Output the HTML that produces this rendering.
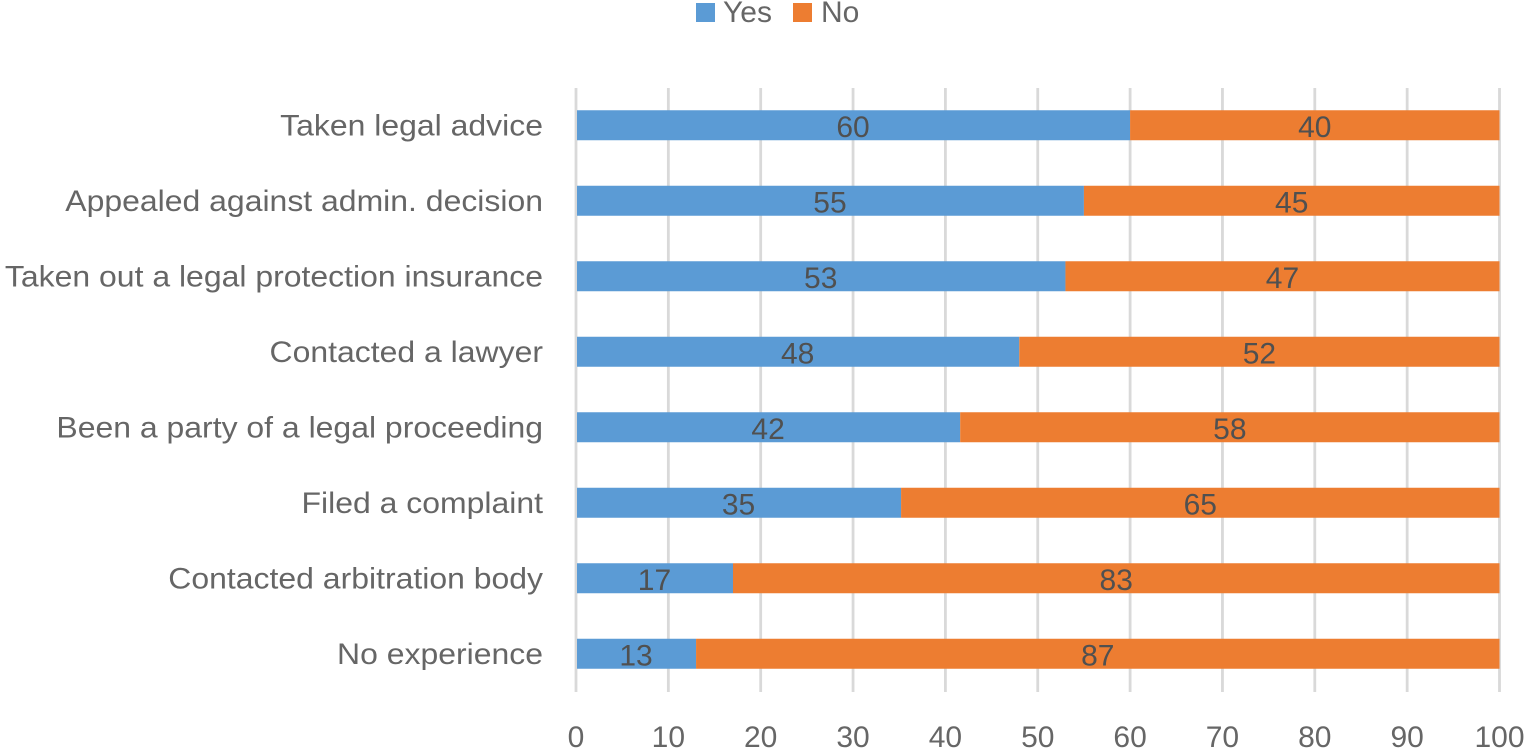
<!DOCTYPE html>
<html lang="en">
<head>
<meta charset="utf-8">
<title>Legal experience chart</title>
<style>
html,body{margin:0;padding:0;background:#fff;width:1525px;height:748px;overflow:hidden}
svg{display:block;font-family:"Liberation Sans",sans-serif}
</style>
</head>
<body>
<svg id="chart" xmlns="http://www.w3.org/2000/svg" width="1525" height="748" viewBox="0 0 1525 748">
  <g id="grid"></g>
  <g id="bars"></g>
  <g id="cats"></g>
  <g id="ticks"></g>
  <g id="legend">
    <g>
      <rect x="696" y="3" width="19" height="19" fill="#5b9bd5"/>
      <text x="723" y="22" font-size="30" fill="#666666" id="legYes">Yes</text>
    </g>
    <g>
      <rect x="793" y="3" width="19" height="19" fill="#ed7d31"/>
      <text x="821" y="22" font-size="30" fill="#666666" id="legNo">No</text>
    </g>
  </g>
</svg>
<script>
const categories = ["Taken legal advice","Appealed against admin. decision","Taken out a legal protection insurance","Contacted a lawyer","Been a party of a legal proceeding","Filed a complaint","Contacted arbitration body","No experience"];
const yesValues = [60,55,53,48,41.6,35.2,17,13];
const noValues = [40,45,47,52,58.4,64.8,83,87];
const tickValues = [0,10,20,30,40,50,60,70,80,90,100];

const NS = "http://www.w3.org/2000/svg";
const plotLeft = 576, plotRight = 1499.5, plotTop = 88, plotBottom = 692;
const xScale = v => plotLeft + (plotRight - plotLeft) * v / 100;
const band = (plotBottom - plotTop) / categories.length;
const yCenter = i => plotTop + band * (i + 0.5) - 0.5;
const barH = 30;
const catStretch = 1.065;

function mk(tag, attrs, parent, txt) {
  const el = document.createElementNS(NS, tag);
  for (const k in attrs) el.setAttribute(k, attrs[k]);
  if (txt !== undefined) el.textContent = txt;
  parent.appendChild(el);
  return el;
}
const gGrid = document.getElementById("grid");
const gBars = document.getElementById("bars");
const gCats = document.getElementById("cats");
const gTicks = document.getElementById("ticks");

tickValues.forEach(t => {
  const line = mk("line", {x1: xScale(t), x2: xScale(t), y1: plotTop, y2: plotBottom, stroke: "#d9d9d9", "stroke-width": 2.8}, gGrid);
  
  
  const label = mk("text", {x: xScale(t), y: 747, "text-anchor": "middle", "font-size": 30, fill: "#666666"}, gTicks, String(t));
  
  
});

categories.forEach((c, i) => {
  const cy = yCenter(i);
  const top = cy - barH / 2;
  const catLabel = mk("text", {transform: "translate(543," + (cy + 10) + ") scale(" + catStretch + ",1)", "text-anchor": "end", "font-size": 30, fill: "#666666"}, gCats, c);
  
  

  const xStart = xScale(0) + 1, xYes = xScale(yesValues[i]), xNo = xScale(yesValues[i] + noValues[i]);
  const yesBar = mk("rect", {x: xStart, y: top, width: xYes - xStart, height: barH, fill: "#5b9bd5"}, gBars);
  
  
  const noBar = mk("rect", {x: xYes, y: top, width: xNo - xYes, height: barH, fill: "#ed7d31"}, gBars);
  
  

  const yesText = mk("text", {x: (xScale(0) + xYes) / 2, y: cy + 11.5, "text-anchor": "middle", "font-size": 30, fill: "#505050"}, gBars, String(Math.round(yesValues[i])));
  
  
  const noText = mk("text", {x: (xYes + xNo) / 2, y: cy + 11.5, "text-anchor": "middle", "font-size": 30, fill: "#505050"}, gBars, String(Math.round(noValues[i])));
  
  
});
</script>
</body>
</html>
